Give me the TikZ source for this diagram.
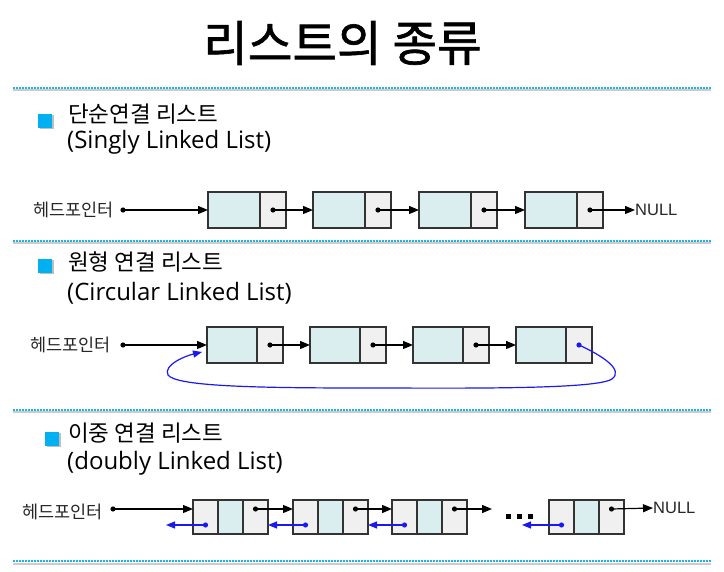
\documentclass[tikz,border=0pt]{standalone}
\usepackage{fontspec}
\setmainfont{Noto Sans CJK KR}
\newfontfamily\krfont{Noto Sans CJK KR}
\newfontfamily\titlefnt[FakeBold=1.3]{Noto Sans CJK KR}
\newfontfamily\latfont{Open Sans}
\newfontfamily\nullfnt{Liberation Sans}
\usetikzlibrary{arrows.meta,calc}
\definecolor{cellC}{HTML}{DAEDEF}
\definecolor{cellG}{HTML}{F0F0F0}
\definecolor{bord}{HTML}{333333}
\definecolor{sepC}{HTML}{1CB2EA}
\definecolor{bulC}{HTML}{00B0F0}
\definecolor{linkB}{HTML}{1A1AF0}
\tikzset{
  cellbase/.style={draw=bord, line width=1.1pt, inner sep=0pt, outer sep=0pt, minimum height=36pt},
  datab/.style={cellbase, fill=cellC, minimum width=52pt},
  ptrb/.style={cellbase, fill=cellG, minimum width=26pt},
  datac/.style={cellbase, fill=cellC, minimum width=50pt},
  ptrc/.style={cellbase, fill=cellG, minimum width=26pt},
  dgray/.style={cellbase, fill=cellG, minimum width=25pt, minimum height=34pt},
  dcyan/.style={cellbase, fill=cellC, minimum width=25pt, minimum height=34pt},
  arr/.style={line width=1.2pt, -{Triangle[length=10pt,width=8pt]}},
  barr/.style={draw=linkB, line width=1.2pt, -{Triangle[length=9pt,width=7pt]}},
  headtxt/.style={font=\krfont\fontsize{17.5}{19}\selectfont, text=black!85, inner sep=0pt},
  nulltxt/.style={font=\nullfnt\fontsize{16.5}{18}\selectfont, text=black!85, inner sep=0pt},
  krhead/.style={font=\krfont\fontsize{22.5}{25}\selectfont, inner sep=0pt, anchor=west},
  lathead/.style={font=\latfont\fontsize{24}{26}\selectfont, inner sep=0pt, anchor=west},
  bullet/.style={fill=bulC, minimum width=14pt, minimum height=14pt, inner sep=0pt, outer sep=0pt},
}
\newcommand{\sepline}[1]{%
  \draw[black!20, line width=2pt] (13,#1+2.5) -- (711,#1+2.5);
  \draw[sepC, line width=1.8pt, dash pattern=on 1.5pt off 1.5pt] (13,#1) -- (711,#1);}
\newcommand{\bul}[3]{%
  \fill[black!25] (#1+1.5,#2+1.5) rectangle ++(14,14);
  \node[bullet, anchor=north west] (#3) at (#1,#2) {};}
\begin{document}
\begin{tikzpicture}[x=1pt,y=-1pt]
\useasboundingbox (0,0) rectangle (724,572);
\fill[white] (0,0) rectangle (724,572);
% title
\node[font=\titlefnt\fontsize{48.5}{52}\selectfont, inner sep=0pt] (title) at (342.5,43) {리스트의 종류};
% separators
\sepline{88}
\sepline{241}
\sepline{410}
\sepline{561}
% ---------- section 1
\bul{38}{114}{b1}
\node[krhead] (k1) at (68,114) {단순연결 리스트};
\node[lathead] (l1) at (67,142) {(Singly Linked List)};
\node[headtxt, anchor=east] (h1) at (114,210) {헤드포인터};
\coordinate (h1dot) at (123,210);
\foreach \i/\x in {1/208,2/313,3/419,4/525}{
  \node[datab, anchor=north west] (a\i) at (\x,192) {};
  \node[ptrb, anchor=west] (ap\i) at (a\i.east) {};
  \fill (ap\i.center) circle (2.6pt);
}
\fill (h1dot) circle (2.6pt);
\draw[arr] (h1dot) -- (a1.west);
\draw[arr] (ap1.center) -- (a2.west);
\draw[arr] (ap2.center) -- (a3.west);
\draw[arr] (ap3.center) -- (a4.west);
\node[nulltxt, anchor=west] (n1) at (635,210) {NULL};
\draw[arr] (ap4.center) -- (n1.west);
% ---------- section 2
\bul{38}{259}{b2}
\node[krhead] (k2) at (68,262) {원형 연결 리스트};
\node[lathead] (l2) at (67,293) {(Circular Linked List)};
\node[headtxt, anchor=east] (h2) at (111,345) {헤드포인터};
\coordinate (h2dot) at (123,345);
\foreach \i/\x in {1/207,2/310,3/413,4/516}{
  \node[datac, anchor=north west] (c\i) at (\x,327) {};
  \node[ptrc, anchor=west] (cp\i) at (c\i.east) {};
}
\foreach \i in {1,2,3}{\fill (cp\i.center) circle (2.6pt);}
\fill (h2dot) circle (2.6pt);
\draw[arr] (h2dot) -- (c1.west);
\draw[arr] (cp1.center) -- (c2.west);
\draw[arr] (cp2.center) -- (c3.west);
\draw[arr] (cp3.center) -- (c4.west);
\fill[linkB] (cp4.center) circle (2.6pt);
\coordinate (cEnd) at ($(c1.west)+(-5,7)$);
\draw[barr] (cp4.center) .. controls (603,356) and (624,370) .. (612,379)
  .. controls (596,390) and (450,388) .. (362,388)
  .. controls (250,388) and (176,386) .. (168,375)
  .. controls (163,365) and (185,356) .. (cEnd);
% ---------- section 3
\bul{45}{432}{b3}
\node[krhead] (k3) at (68,433) {이중 연결 리스트};
\node[lathead] (l3) at (67,463) {(doubly Linked List)};
\node[headtxt, anchor=east] (h3) at (103,512) {헤드포인터};
\coordinate (h3dot) at (113,509);
\foreach \i/\x in {1/193,2/293,3/392,4/549}{
  \node[dgray, anchor=north west] (dl\i) at (\x,500) {};
  \node[dcyan, anchor=west] (dm\i) at (dl\i.east) {};
  \node[dgray, anchor=west] (dr\i) at (dm\i.east) {};
  \coordinate (fw\i) at ($(dr\i.center)+(0,-8)$);
  \coordinate (bw\i) at ($(dl\i.center)+(0,8)$);
  \fill (fw\i) circle (2.6pt);
  \fill[linkB] (bw\i) circle (2.6pt);
}
\fill (h3dot) circle (2.6pt);
\draw[arr] (h3dot) -- (dl1.west |- h3dot);
\draw[arr] (fw1) -- (dl2.west |- fw1);
\draw[arr] (fw2) -- (dl3.west |- fw2);
\coordinate (fw3end) at (492,509);
\draw[arr] (fw3) -- (fw3end);
\node[nulltxt, anchor=west] (n3) at (653,508) {NULL};
\draw[arr] (fw4) -- (n3.west);
\coordinate (bw1end) at (166,525);
\coordinate (bw4end) at (522,525);
\draw[barr] (bw1) -- (bw1end);
\draw[barr] (bw2) -- (dr1.east |- bw2);
\draw[barr] (bw3) -- (dr2.east |- bw3);
\draw[barr] (bw4) -- (bw4end);
% ellipsis
\foreach \x in {506,517,528}{\fill (\x,514) rectangle ++(5,5);}
\end{tikzpicture}
\end{document}
